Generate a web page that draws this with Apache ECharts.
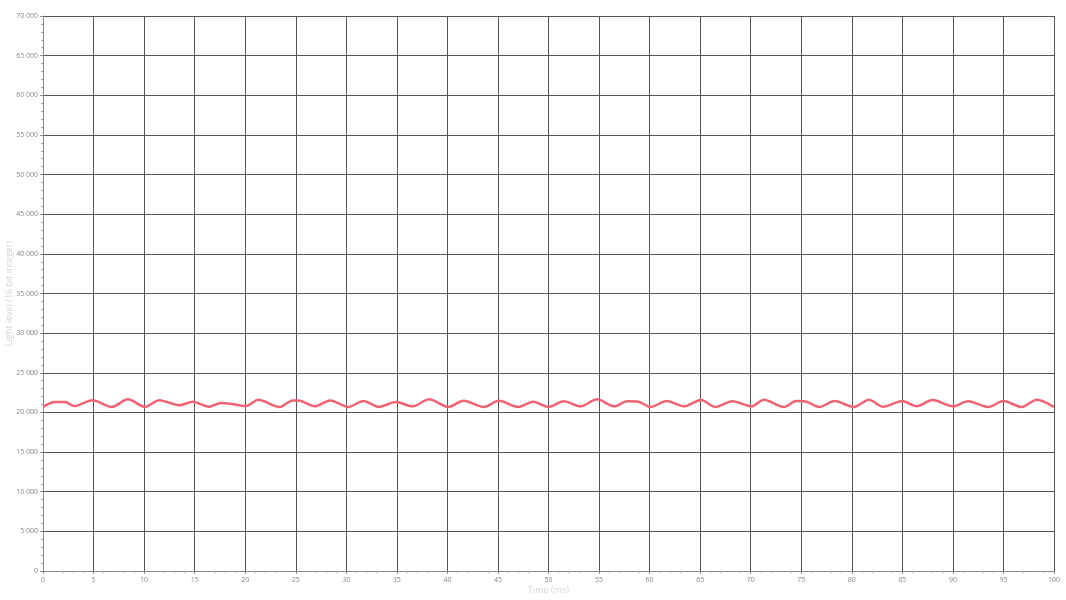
<!DOCTYPE html>
<html>
<head>
<meta charset="utf-8">
<title>Light level</title>
<script src="https://cdn.jsdelivr.net/npm/echarts@6/dist/echarts.min.js"></script>
<style>
  html, body { margin: 0; padding: 0; background: #fff; }
  #chart { width: 1066px; height: 600px; }
</style>
</head>
<body>
<div id="chart"></div>
<script>
// values (peaks, troughs and a few plateau points)
const times = [
  0, 1.2, 2.2, 3.1, 4.9, 6.8, 8.4, 10.1, 11.5, 13.5, 14.8, 16.4, 17.6, 19.0, 20.1,
  21.3, 23.4, 24.7, 25.3, 26.9, 28.4, 30.2, 31.7, 33.2, 34.9, 36.6, 38.2, 40.1,
  41.6, 43.6, 45.1, 47.0, 48.5, 50.0, 51.5, 53.2, 54.8, 56.5, 57.8, 58.8, 60.1,
  61.7, 63.4, 65.1, 66.5, 68.2, 70.1, 71.3, 73.3, 74.5, 75.3, 76.8, 78.3, 80.2,
  81.7, 83.1, 85.0, 86.4, 88.0, 90.0, 91.5, 93.5, 95.0, 96.8, 98.3, 100
];
const lightLevel = [
  20700, 21320, 21300, 20800, 21550, 20700, 21650, 20700, 21550, 20900, 21350, 20720, 21200, 21000, 20800,
  21610, 20690, 21520, 21500, 20770, 21520, 20690, 21440, 20700, 21310, 20770, 21650, 20690,
  21460, 20690, 21460, 20690, 21350, 20690, 21400, 20770, 21650, 20770, 21400, 21380, 20690,
  21440, 20770, 21580, 20690, 21400, 20770, 21610, 20690, 21430, 21410, 20690, 21440, 20690,
  21610, 20720, 21440, 20770, 21560, 20770, 21400, 20690, 21440, 20690, 21610, 20690
];

const chart = echarts.init(document.getElementById("chart"));

const fmtThousands = (v) => String(v).replace(/\B(?=(\d{3})+(?!\d))/g, " ");

chart.setOption({
  animation: false,
  textStyle: { fontFamily: "Open Sans" },
  grid: { left: 43, right: 12, top: 16, bottom: 29, containLabel: false, outerBoundsMode: "none" },
  xAxis: {
    type: "value",
    min: 0,
    max: 100,
    interval: 5,
    name: "Time (ms)",
    nameLocation: "middle",
    nameGap: 15,
    nameMoveOverlap: false,
    nameTextStyle: { color: "#d4d4d4", fontSize: 9 },
    axisLine: { lineStyle: { color: "#888" } },
    axisTick: { length: 3, lineStyle: { color: "#888" } },
    minorTick: { show: true, splitNumber: 5, length: 2, lineStyle: { color: "#aaa" } },
    axisLabel: { color: "#888", fontSize: 7, margin: 5 },
    splitLine: { show: true, lineStyle: { color: "#555", width: 1 } }
  },
  yAxis: {
    type: "value",
    min: 0,
    max: 70000,
    interval: 5000,
    name: "Light level (16 bit integer)",
    nameLocation: "middle",
    nameGap: 29,
    nameMoveOverlap: false,
    nameTextStyle: { color: "#d4d4d4", fontSize: 9 },
    axisLine: { show: true, lineStyle: { color: "#888" } },
    axisTick: { show: true, length: 3, lineStyle: { color: "#888" } },
    minorTick: { show: true, splitNumber: 5, length: 2, lineStyle: { color: "#aaa" } },
    axisLabel: { color: "#888", fontSize: 7, margin: 5, formatter: fmtThousands },
    splitLine: { show: true, lineStyle: { color: "#555", width: 1 } }
  },
  series: [{
    type: "line",
    data: times.map((t, i) => [t, lightLevel[i]]),
    showSymbol: false,
    smooth: 0.3,
    lineStyle: { color: "#ee6474", width: 2.5 }
  }]
});
</script>
</body>
</html>
